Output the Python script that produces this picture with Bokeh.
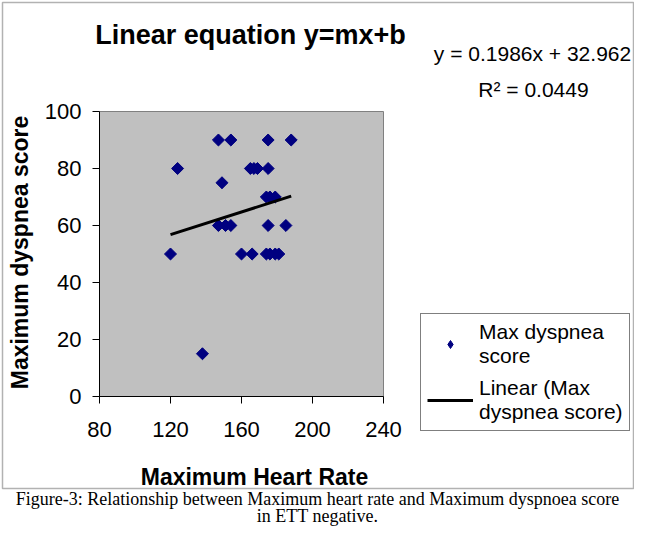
import math
from bokeh.plotting import figure
from bokeh.models import (Range1d, Label, BoxAnnotation, Legend, LegendItem,
                          FixedTicker, ColumnDataSource, LinearAxis)
from bokeh.embed import file_html
from bokeh.resources import INLINE

# ---- data ----
heart_rate = [147, 154, 175, 188,
              124, 165, 167, 169, 175,
              149,
              174, 176, 179,
              147, 151, 154, 175, 185,
              120, 160, 166, 174, 176, 179, 181,
              138]
dyspnea = [90, 90, 90, 90,
           80, 80, 80, 80, 80,
           75,
           70, 70, 70,
           60, 60, 60, 60, 60,
           50, 50, 50, 50, 50, 50, 50,
           15]
slope = 0.1986
intercept = 32.962
r_squared = 0.0449
x_ticks = [80, 120, 160, 200, 240]
y_ticks = [0, 20, 40, 60, 80, 100]

title_text = "Linear equation y=mx+b"
x_title = "Maximum Heart Rate"
y_title = "Maximum dyspnea score"
series_name = "Max dyspnea\nscore"
trend_name = "Linear (Max\ndyspnea score)"
caption1 = "Figure-3: Relationship between Maximum heart rate and Maximum dyspnoea score"
caption2 = "in ETT negative."

SANS = "Liberation Sans"
SERIF = "Liberation Serif"

# ---- layout (canvas pixels, origin top-left) ----
W, H = 634, 526
PL, PT, PR, PB = 99, 111, 383, 396   # plot area edges

xmin, xmax = x_ticks[0], x_ticks[-1]
ymin, ymax = y_ticks[0], y_ticks[-1]
kx = (PR - PL) / (xmax - xmin)
ky = (PB - PT) / (ymax - ymin)

p = figure(width=W, height=H, output_backend="svg", toolbar_location=None,
           x_range=Range1d(0, W), y_range=Range1d(0, H),
           x_axis_location=None, y_axis_location=None,
           min_border=0)
p.extra_x_ranges = {"hr": Range1d(xmin - PL / kx, xmin + (W - PL) / kx)}
p.extra_y_ranges = {"ds": Range1d(ymin - (H - PB) / ky, ymin + PB / ky)}
p.background_fill_color = "white"
p.border_fill_color = "white"
p.outline_line_color = None
p.grid.visible = False

# plot area
p.quad(left=xmin, right=xmax, bottom=ymin, top=ymax,
       x_range_name="hr", y_range_name="ds", level="underlay",
       fill_color="#C0C0C0", line_color="#808080", line_width=1)

def style_axis(ax):
    ax.axis_line_color = "black"
    ax.major_tick_line_color = "black"
    ax.major_tick_out = 7
    ax.major_tick_in = 0
    ax.minor_tick_line_color = None
    ax.major_label_text_font = SANS
    ax.major_label_text_font_size = "22px"
    ax.major_label_text_color = "black"

xaxis = LinearAxis(x_range_name="hr", y_range_name="ds", fixed_location=ymin,
                   bounds=(xmin, xmax), ticker=FixedTicker(ticks=x_ticks))
style_axis(xaxis)
xaxis.major_label_standoff = 18
p.add_layout(xaxis, "below")

yaxis = LinearAxis(x_range_name="hr", y_range_name="ds", fixed_location=xmin,
                   bounds=(ymin, ymax), ticker=FixedTicker(ticks=y_ticks))
style_axis(yaxis)
yaxis.major_label_standoff = 11
p.add_layout(yaxis, "left")

src = ColumnDataSource(dict(x=heart_rate, y=dyspnea))
# diamond glyph used for the legend swatch (hidden under the markers)
swatch = p.scatter("x", "y", source=src, marker="diamond", size=10,
                   x_range_name="hr", y_range_name="ds",
                   fill_color="#000080", line_color="#000080")
pts = p.scatter("x", "y", source=src, marker="square", angle=math.pi / 4,
                size=8.5, x_range_name="hr", y_range_name="ds",
                fill_color="#000080", line_color="#000080")

x0, x1 = min(heart_rate), max(heart_rate)
trend = p.line([x0, x1], [slope * x0 + intercept, slope * x1 + intercept],
               x_range_name="hr", y_range_name="ds",
               line_color="black", line_width=3)

# legend box: canvas left 420, bottom 431
legend = Legend(items=[LegendItem(label=series_name, renderers=[swatch]),
                       LegendItem(label=trend_name, renderers=[trend])],
                location=(420, H - 431))
legend.label_text_font = SANS
legend.label_text_font_size = "21px"
legend.label_text_color = "black"
legend.label_text_line_height = 1.3
legend.border_line_color = "black"
legend.border_line_width = 1
legend.background_fill_color = "white"
legend.background_fill_alpha = 1
legend.glyph_width = 46
legend.label_standoff = 6
legend.padding = 6
legend.spacing = 8
legend.margin = 0
p.add_layout(legend, "center")

def lab(text, cx, cy, size, font=SANS, style="normal", angle=0.0):
    p.add_layout(Label(x=cx, y=H - cy, text=text, text_font=font,
                       text_font_size=size, text_font_style=style,
                       text_align="center", text_baseline="middle",
                       text_color="black", angle=angle))

lab(title_text, 250, 34, "27px", style="bold")
lab(x_title, 254, 476, "23px", style="bold")
lab(y_title, 19, 252, "23px", style="bold", angle=math.pi / 2)
lab("y = %.4fx + %.3f" % (slope, intercept), 532, 53, "21px")
lab("R² = %.4f" % r_squared, 533, 89, "21px")
lab(caption1, 317, 498, "18px", font=SERIF)
lab(caption2, 317, 515.5, "18px", font=SERIF)

# outer chart border
p.add_layout(BoxAnnotation(left=2, right=W - 1, top=H - 2, bottom=H - 488,
                           fill_alpha=0, line_color="black", line_width=1.5))

open("out.html", "w").write(file_html(p, INLINE))
